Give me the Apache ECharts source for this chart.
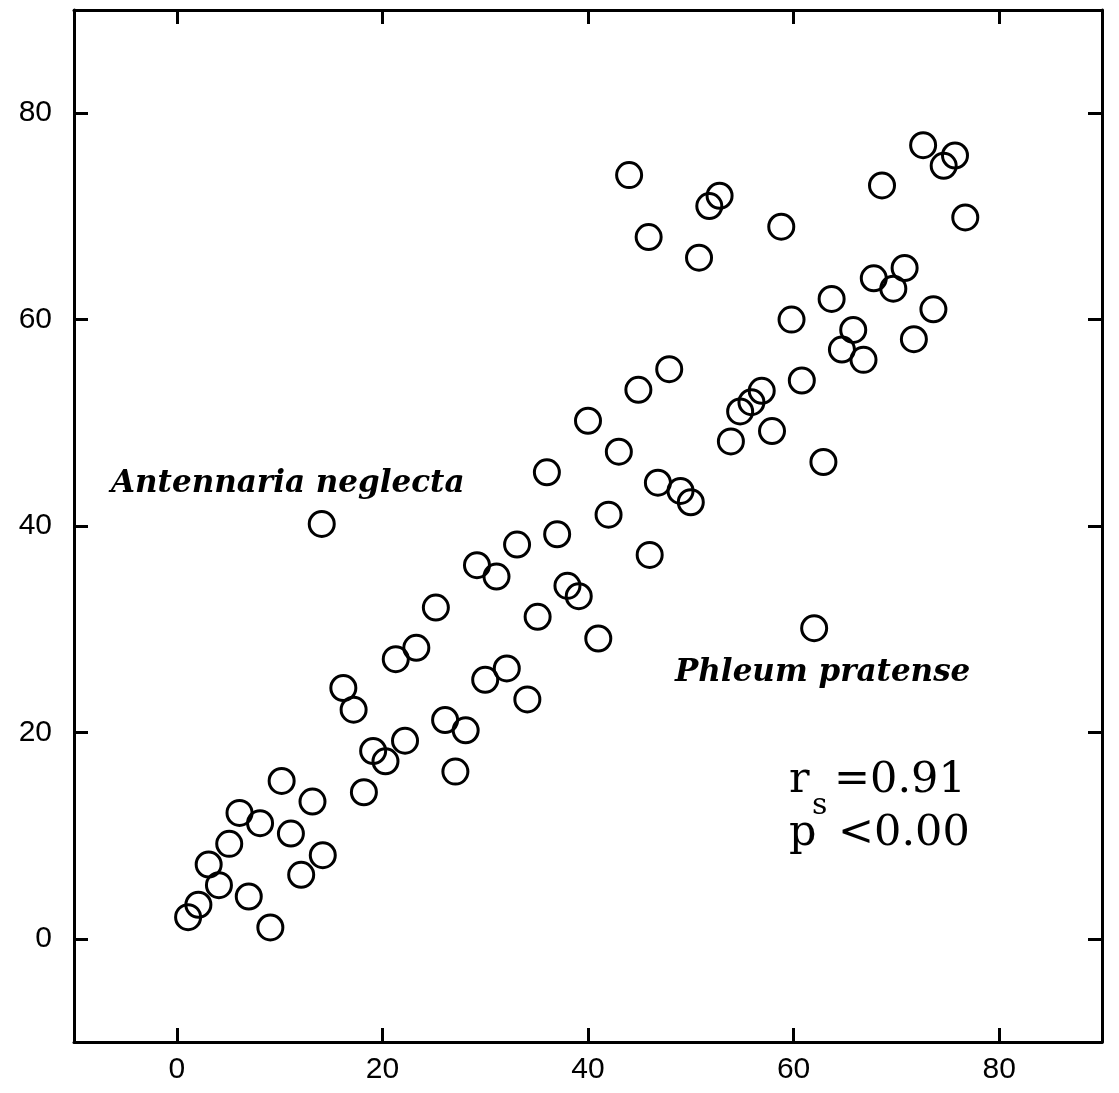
<!DOCTYPE html>
<html>
<head>
<meta charset="utf-8">
<script src="https://cdn.jsdelivr.net/npm/echarts@6/dist/echarts.min.js"></script>
<style>
  html, body { margin: 0; padding: 0; background: #fff; }
  #chart { width: 1119px; height: 1093px; }
</style>
</head>
<body>
<div id="chart"></div>
<script>
// ---- data ----
const xValues = [1.1, 2.1, 3.1, 4.1, 5.1, 6.1, 7.0, 8.1, 9.1, 10.2, 11.1, 12.1, 13.2, 14.1, 14.2,
  16.2, 17.2, 18.2, 19.1, 20.3, 21.3, 22.2, 23.3, 25.2, 26.1, 27.1, 28.1, 29.2, 30.0, 31.1,
  32.1, 33.1, 34.1, 35.1, 36.0, 37.0, 38.0, 39.1, 40.0, 41.0, 42.0, 43.0, 44.0, 44.9, 45.9,
  46.0, 46.8, 47.9, 49.0, 50.0, 50.8, 51.8, 52.8, 53.9, 54.8, 55.9, 56.9, 57.9, 58.8, 59.8,
  60.8, 62.0, 62.9, 63.7, 64.7, 65.8, 66.8, 67.8, 68.6, 69.7, 70.8, 71.7, 72.6, 73.6, 74.6,
  75.7, 76.7];
const yValues = [2.1, 3.3, 7.2, 5.2, 9.2, 12.2, 4.1, 11.2, 1.1, 15.3, 10.2, 6.2, 13.3, 40.2, 8.1,
  24.3, 22.2, 14.2, 18.2, 17.2, 27.1, 19.2, 28.2, 32.1, 21.2, 16.2, 20.2, 36.2, 25.1, 35.1,
  26.2, 38.2, 23.2, 31.2, 45.2, 39.2, 34.2, 33.2, 50.2, 29.1, 41.1, 47.2, 74.0, 53.2, 68.0,
  37.2, 44.2, 55.2, 43.4, 42.3, 66.0, 71.0, 72.0, 48.2, 51.1, 52.0, 53.1, 49.2, 69.0, 60.0,
  54.1, 30.1, 46.2, 62.0, 57.1, 59.0, 56.1, 64.0, 73.0, 63.0, 65.0, 58.1, 76.9, 61.0, 74.9,
  75.9, 69.9];
const xTicks = [0, 20, 40, 60, 80];
const yTicks = [0, 20, 40, 60, 80];
const annotationLabels = ['Antennaria neglecta', 'Phleum pratense'];
const statLines = ['r', 's', '=0.91', 'p', '<0.00'];

const points = xValues.map((x, i) => [x, yValues[i]]);

const chart = echarts.init(document.getElementById('chart'), null, { renderer: 'canvas' });

const axisLineStyle = { color: '#000', width: 3 };
const labelFont = { fontSize: 30, color: '#000', fontFamily: 'Liberation Sans, Arial, sans-serif' };

function xAxisDef(pos, showLabel) {
  return {
    type: 'value', position: pos, min: -10, max: 90,
    axisLine: { show: true, onZero: false, lineStyle: axisLineStyle },
    axisTick: { show: true, inside: true, length: 14, lineStyle: { color: '#000', width: 3 }, customValues: xTicks },
    axisLabel: Object.assign({ show: showLabel, margin: 13, customValues: xTicks }, labelFont),
    splitLine: { show: false }
  };
}
function yAxisDef(pos, showLabel) {
  return {
    type: 'value', position: pos, min: -10, max: 90,
    axisLine: { show: true, onZero: false, lineStyle: axisLineStyle },
    axisTick: { show: true, inside: true, length: 14, lineStyle: { color: '#000', width: 3 }, customValues: yTicks },
    axisLabel: Object.assign({ show: showLabel, margin: 22, customValues: yTicks }, labelFont),
    splitLine: { show: false }
  };
}

const italicFont = { fontFamily: 'DejaVu Serif', fontStyle: 'italic', fontWeight: 'bold', fill: '#000' };
const statFont = { fontFamily: 'DejaVu Serif', fill: '#000' };

chart.setOption({
  animation: false,
  backgroundColor: '#fff',
  grid: { left: 74, right: 17, top: 10, bottom: 51, containLabel: false },
  xAxis: [xAxisDef('bottom', true), xAxisDef('top', false)],
  yAxis: [yAxisDef('left', true), yAxisDef('right', false)],
  series: [{
    type: 'scatter',
    xAxisIndex: 0, yAxisIndex: 0,
    data: points,
    symbol: 'circle',
    symbolSize: 25,
    itemStyle: { color: 'rgba(0,0,0,0)', borderColor: '#000', borderWidth: 3, opacity: 1 },
    emphasis: { disabled: true }
  }],
  graphic: [
    { type: 'text', left: 111, top: 468, style: Object.assign({ text: annotationLabels[0], fontSize: 31 }, italicFont) },
    { type: 'text', left: 675, top: 657, style: Object.assign({ text: annotationLabels[1], fontSize: 31 }, italicFont) },
    { type: 'text', left: 789, top: 759, style: Object.assign({ text: statLines[0], fontSize: 43 }, statFont) },
    { type: 'text', left: 812, top: 791, style: Object.assign({ text: statLines[1], fontSize: 30 }, statFont) },
    { type: 'text', left: 834, top: 759, style: Object.assign({ text: statLines[2], fontSize: 43 }, statFont) },
    { type: 'text', left: 789, top: 812, style: Object.assign({ text: statLines[3], fontSize: 43 }, statFont) },
    { type: 'text', left: 838, top: 812, style: Object.assign({ text: statLines[4], fontSize: 43 }, statFont) }
  ]
});
</script>
</body>
</html>
